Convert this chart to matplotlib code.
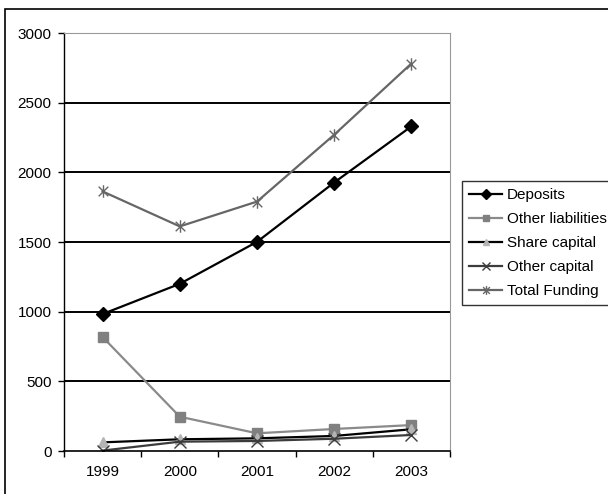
import matplotlib

matplotlib.use("Agg")

import matplotlib.pyplot as plt
from matplotlib.patches import Rectangle
from matplotlib.path import Path

years = ["1999", "2000", "2001", "2002", "2003"]
deposits = [983, 1200, 1501, 1927, 2330]
other_liabilities = [818, 246, 127, 158, 186]
share_capital = [62, 84, 91, 108, 156]
other_capital = [3, 67, 72, 88, 115]
total_funding = [1863, 1612, 1790, 2270, 2781]

plt.rcParams["font.family"] = ["Liberation Sans", "DejaVu Sans"]

# Excel-style asterisk: an x with a vertical bar through it
asterisk = Path(
    [(-1, -1), (1, 1), (-1, 1), (1, -1), (0, -1.3), (0, 1.3)],
    [Path.MOVETO, Path.LINETO, Path.MOVETO, Path.LINETO, Path.MOVETO, Path.LINETO],
)

fig = plt.figure(figsize=(6.08, 4.94), dpi=100)
ax = fig.add_axes([64 / 608, 1 - 451 / 494, 386 / 608, 418 / 494])

# outer chart frame (only top and left edges are inside the picture)
fig.patches.append(
    Rectangle((4.5 / 608, -0.2), 1.2, 1.2 - 9 / 494, transform=fig.transFigure,
              fill=False, edgecolor="black", linewidth=1.2)
)

x = range(len(years))
ax.plot(x, deposits, color="black", lw=1.6, marker="D", ms=7,
        mfc="black", mec="black", label="Deposits")
ax.plot(x, other_liabilities, color="#8a8a8a", lw=1.6, marker="s", ms=7,
        mfc="#808080", mec="#808080", label="Other liabilities")
ax.plot(x, share_capital, color="black", lw=1.6, marker="^", ms=7,
        mfc="#b4b4b4", mec="#b4b4b4", label="Share capital")
ax.plot(x, other_capital, color="#3c3c3c", lw=1.6, marker="x", ms=8,
        mew=1.0, mec="#3c3c3c", label="Other capital")
ax.plot(x, total_funding, color="#666666", lw=1.6, marker=asterisk, ms=9,
        mew=1.0, mec="#666666", mfc="none", label="Total Funding")

ax.set_xlim(-0.5, 4.5)
ax.set_ylim(0, 3000)
ax.set_yticks(range(0, 3001, 500))
ax.set_xticks(list(x))
ax.set_xticklabels(years)
ax.set_xticks([i + 0.5 for i in range(-1, 5)], minor=True)
ax.tick_params(axis="x", which="major", length=0, pad=10, labelsize=11)
ax.tick_params(axis="x", which="minor", length=4, width=1, direction="out")
ax.tick_params(axis="y", length=4, width=1, direction="out", pad=5, labelsize=11)

for v in range(500, 3000, 500):
    ax.axhline(v, color="black", lw=1.4, zorder=0.5)

ax.spines["top"].set_color("#999999")
ax.spines["right"].set_color("#999999")
ax.spines["left"].set_linewidth(1.0)
ax.spines["bottom"].set_linewidth(1.2)

leg = fig.legend(loc="upper left", bbox_to_anchor=(462 / 608, 1 - 181 / 494),
                 frameon=True, fancybox=False, fontsize=11, handlelength=2.2,
                 handletextpad=0.3, labelspacing=0.66, borderpad=0.45,
                 borderaxespad=0, markerscale=0.7)
leg.get_frame().set_edgecolor("black")
leg.get_frame().set_linewidth(1.0)

fig.savefig("out.png", dpi=100)
plt.close(fig)
